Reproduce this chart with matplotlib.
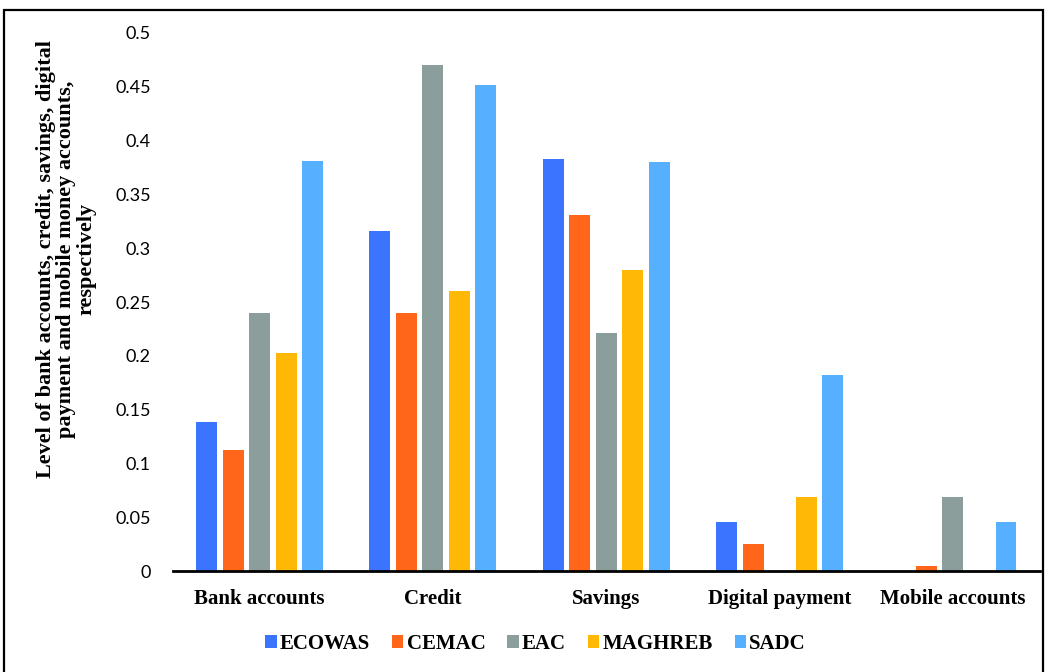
import numpy as np
import matplotlib.pyplot as plt
from matplotlib.patches import Rectangle

# data
categories = ['Bank accounts', 'Credit', 'Savings', 'Digital payment', 'Mobile accounts']
regions = ['ECOWAS', 'CEMAC', 'EAC', 'MAGHREB', 'SADC']
ecowas = [0.139, 0.316, 0.383, 0.046, 0.0]
cemac = [0.113, 0.240, 0.331, 0.025, 0.005]
eac = [0.240, 0.470, 0.221, 0.0, 0.069]
maghreb = [0.203, 0.260, 0.280, 0.069, 0.0]
sadc = [0.381, 0.452, 0.380, 0.182, 0.046]
y_ticks = [0, 0.05, 0.1, 0.15, 0.2, 0.25, 0.3, 0.35, 0.4, 0.45, 0.5]
y_tick_labels = ['0', '0.05', '0.1', '0.15', '0.2', '0.25', '0.3', '0.35', '0.4', '0.45', '0.5']

colors = ['#3b75ff', '#ff661a', '#8c9e9c', '#ffb806', '#56b0ff']
series = [ecowas, cemac, eac, maghreb, sadc]

fig = plt.figure(figsize=(10.48, 6.72), dpi=100)
ax = fig.add_axes([0.165, 0.150, 0.827, 0.801])

x = np.arange(len(categories))
pitch = 0.153
width = 0.121
for i, (vals, name, c) in enumerate(zip(series, regions, colors)):
    ax.bar(x + (i - 2) * pitch, vals, width=width, color=c, label=name, zorder=2)

ax.set_xlim(-0.5, len(categories) - 0.5)
ax.set_ylim(0, 0.5)
ax.set_yticks(y_ticks)
ax.set_yticklabels(y_tick_labels, fontfamily='Lato', fontsize=13)
ax.tick_params(axis='y', length=0, pad=16)
ax.set_xticks(x)
ax.set_xticklabels(categories, fontfamily='Liberation Serif', fontweight='bold', fontsize=15)
ax.tick_params(axis='x', length=0, pad=13)

for s in ['top', 'right', 'left']:
    ax.spines[s].set_visible(False)
ax.spines['bottom'].set_linewidth(2)
ax.spines['bottom'].set_color('black')

fig.text(0.063, 0.614,
         'Level of bank accounts, credit, savings, digital\n'
         'payment and mobile money accounts,\nrespectively',
         rotation=90, ha='center', va='center', multialignment='center',
         fontfamily='Liberation Serif', fontweight='bold', fontsize=16,
         linespacing=1.02)

leg = fig.legend(loc='center', bbox_to_anchor=(0.511, 0.042), ncol=5, frameon=False,
                 prop={'family': 'Liberation Serif', 'weight': 'bold', 'size': 15},
                 handlelength=0.55, handleheight=0.55, handletextpad=0.15, columnspacing=1.05)

# outer frame of the figure
fig.patches.append(Rectangle((4 / 1048, -0.05), 1039 / 1048, 1.035, transform=fig.transFigure,
                             fill=False, edgecolor='black', linewidth=1.6))

fig.savefig('out.png', dpi=100)
